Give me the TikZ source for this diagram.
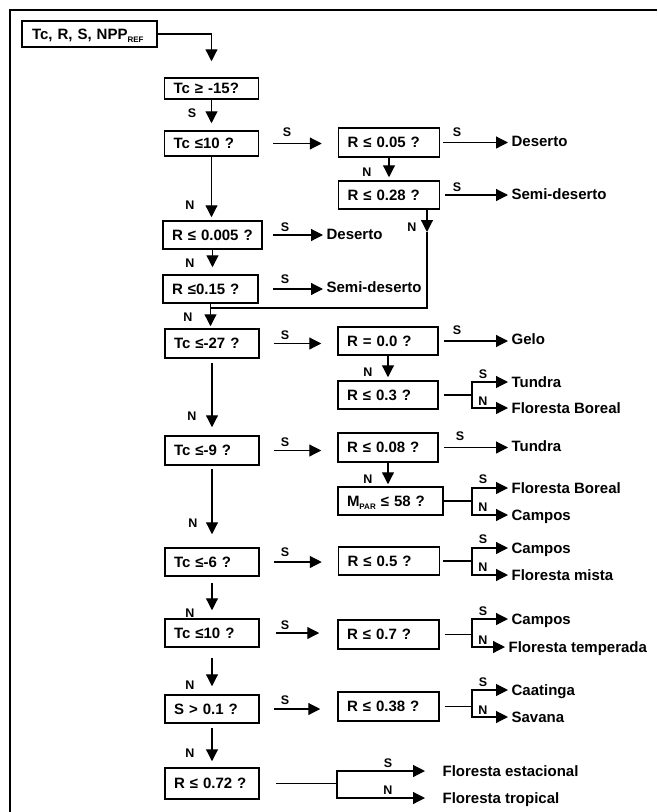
\documentclass[tikz,border=0pt]{standalone}
\usepackage{fontspec}
\setmainfont{Liberation Sans}
\usetikzlibrary{arrows.meta}

\newcommand{\lowidx}[1]{\raisebox{-0.35ex}{\fontsize{8}{8}\selectfont #1}}

\begin{document}
\begin{tikzpicture}[x=1pt, y=-1pt,
    >={Triangle[length=12pt, width=12pt]}, line width=1.2pt,
    qbox/.style={draw, rectangle, line width=1.5pt, minimum height=28pt, inner xsep=9pt, inner ysep=0pt,
      text width=76pt, align=left, text height=10.5pt, text depth=0pt, font=\fontsize{15}{16}\selectfont\bfseries},
    rbox/.style={qbox, text width=83pt},
    leaf/.style={anchor=west, inner sep=3pt, text height=10.5pt, text depth=0pt, font=\fontsize{15}{16}\selectfont\bfseries},
    lbl/.style={inner sep=0pt, font=\fontsize{12.5}{13}\selectfont\bfseries}]

    \useasboundingbox (0,0) rectangle (657,812);
    % === 外框 ===
    \draw[line width=2.2pt] (657,10) -- (10,10) -- (10,812);

    % === 左列: 判断框 ===
    \node[qbox, text width=115pt, inner xsep=10pt, minimum height=26pt] (inp) at (89.5,34) {Tc, R, S, NPP\lowidx{REF}};
    \node[qbox, minimum height=21pt] (Tc15) at (211.5,88.5) {Tc ≥ -15?};
    \node[qbox, minimum height=25pt] (Tc10) at (211.5,143.5) {Tc ≤10 ?};
    \node[qbox, text width=81pt] (R005) at (212.5,235) {R ≤ 0.005 ?};
    \node[qbox, text width=77pt] (R015) at (210.5,289) {R ≤0.15 ?};
    \node[qbox, minimum height=29pt] (Tc27) at (212,343.5) {Tc ≤-27 ?};
    \node[qbox, minimum height=29pt] (Tc9) at (212,450.5) {Tc ≤-9 ?};
    \node[qbox] (Tc6) at (212,562) {Tc ≤-6 ?};
    \node[qbox] (Tc10b) at (212,633) {Tc ≤10 ?};
    \node[qbox] (S01) at (212,709) {S > 0.1 ?};
    \node[qbox, minimum height=31pt] (R072) at (212,783.5) {R ≤ 0.72 ?};

    % === 右列: 判断框 ===
    \node[rbox, minimum height=29pt] (R05a) at (389,142.5) {R ≤ 0.05 ?};
    \node[rbox] (R028) at (389,195) {R ≤ 0.28 ?};
    \node[rbox, text width=82pt] (R00) at (388,341) {R = 0.0 ?};
    \node[rbox, text width=82pt] (R03) at (388,395) {R ≤ 0.3 ?};
    \node[rbox, text width=82pt, minimum height=29pt] (R008) at (388,447.5) {R ≤ 0.08 ?};
    \node[rbox, text width=87pt] (Mpar) at (390.5,501) {M\lowidx{PAR} ≤ 58 ?};
    \node[rbox] (R05) at (389,561) {R ≤ 0.5 ?};
    \node[rbox, minimum height=29pt] (R07) at (388.5,634.5) {R ≤ 0.7 ?};
    \node[rbox, minimum height=29pt] (R038) at (388.5,706.5) {R ≤ 0.38 ?};

    % === 结果 ===
    \node[leaf] (des1) at (508,141) {Deserto};
    \node[leaf] (sem1) at (508,194) {Semi-deserto};
    \node[leaf] (des2) at (323,234) {Deserto};
    \node[leaf] (sem2) at (323,287) {Semi-deserto};
    \node[leaf] (gelo) at (508,339) {Gelo};
    \node[leaf] (tun1) at (508,382) {Tundra};
    \node[leaf] (fb1)  at (508,408) {Floresta Boreal};
    \node[leaf] (tun2) at (508,446) {Tundra};
    \node[leaf] (fb2)  at (508,488) {Floresta Boreal};
    \node[leaf] (cam1) at (508,515) {Campos};
    \node[leaf] (cam2) at (508,548) {Campos};
    \node[leaf] (mis)  at (508,575) {Floresta mista};
    \node[leaf] (cam3) at (508,619) {Campos};
    \node[leaf] (temp) at (505,647) {Floresta temperada};
    \node[leaf] (caa)  at (508,690) {Caatinga};
    \node[leaf] (sav)  at (508,717) {Savana};
    \node[leaf] (est)  at (439,771) {Floresta estacional};
    \node[leaf] (trop) at (439,798) {Floresta tropical};

    % === 分叉点 ===
    \coordinate (k1) at (427,232);
    \coordinate (k2) at (427,308);
    \coordinate (j3) at (472,395);
    \coordinate (j6) at (472,501);
    \coordinate (j7) at (472,561);
    \coordinate (j8) at (472,634.5);
    \coordinate (j9) at (472,706.5);
    \coordinate (j10) at (337,783.5);

    % === 连线: 左列向下 ===
    % inp → Tc15
    \draw[->, shorten >=16pt] (inp.east) -| (Tc15.north);
    \draw[->, shorten >=7pt] (Tc15.south) -- (Tc15.south |- Tc10.north);
    \draw[->, shorten >=3pt] (Tc10.south) -- (Tc10.south |- R005.north);
    \draw[->, shorten >=7pt] (R005.south) -- (R005.south |- R015.north);
    \draw[->, shorten >=2pt] (R015.south) -- (R015.south |- Tc27.north);
    \draw[->, shorten <=4pt, shorten >=8pt] (Tc27.south) -- (Tc27.south |- Tc9.north);
    \draw[->, shorten <=3pt, shorten >=13pt] (Tc9.south) -- (Tc9.south |- Tc6.north);
    \draw[->, shorten <=6pt, shorten >=8pt] (Tc6.south) -- (Tc6.south |- Tc10b.north);
    \draw[->, shorten <=10pt, shorten >=8pt] (Tc10b.south) -- (Tc10b.south |- S01.north);
    \draw[->, shorten <=4pt, shorten >=6pt] (S01.south) -- (S01.south |- R072.north);

    % R028 → 回到 Tc27
    \draw[->] (R028.south -| k1) -- (k1);
    \draw (k1) -- (k2) -- (k2 -| R015.south);

    % === 连线: 左列 → 右列 ===
    \draw[->, shorten <=14pt, shorten >=16pt] (Tc10.east) -- (Tc10.east -| R05a.west);
    \draw[->, shorten <=14pt, shorten >=16pt] (Tc27.east) -- (Tc27.east -| R00.west);
    \draw[->, shorten <=14pt, shorten >=16pt] (Tc9.east) -- (Tc9.east -| R008.west);
    \draw[->, shorten <=14pt, shorten >=16pt] (Tc6.east) -- (Tc6.east -| R05.west);
    \draw[->, shorten <=16pt, shorten >=18pt] (Tc10b.east) -- (Tc10b.east -| R07.west);
    \draw[->, shorten <=14pt, shorten >=17pt] (S01.east) -- (S01.east -| R038.west);
    \draw[->, shorten <=10pt] (R005.east) -- (R005.east -| des2.west);
    \draw[->, shorten <=14pt] (R015.east) -- (R015.east -| sem2.west);

    % === 连线: 右列 ===
    \draw[->, shorten >=3pt] (R05a.south) -- (R05a.south |- R028.north);
    \draw[->, shorten >=3pt] (R00.south) -- (R00.south |- R03.north);
    \draw[->, shorten >=2pt] (R008.south) -- (R008.south |- Mpar.north);
    \draw[->, shorten <=3pt] (R05a.east) -- (R05a.east -| des1.west);
    \draw[->, shorten <=5pt] (R028.east) -- (R028.east -| sem1.west);
    \draw[->, shorten <=5pt] (R00.east) -- (R00.east -| gelo.west);
    \draw[->, shorten <=5pt] (R008.east) -- (R008.east -| tun2.west);

    % 分叉: S / N
    \draw[shorten <=5pt] (R03.east) -- (j3);
    \draw[->] (j3) |- (tun1.west);
    \draw[->] (j3) |- (fb1.west);
    \draw (Mpar.east) -- (j6);
    \draw[->] (j6) |- (fb2.west);
    \draw[->] (j6) |- (cam1.west);
    \draw[shorten <=3pt] (R05.east) -- (j7);
    \draw[->] (j7) |- (cam2.west);
    \draw[->] (j7) |- (mis.west);
    \draw[shorten <=5pt] (R07.east) -- (j8);
    \draw[->] (j8) |- (cam3.west);
    \draw[->] (j8) |- (temp.west);
    \draw[shorten <=5pt] (R038.east) -- (j9);
    \draw[->] (j9) |- (caa.west);
    \draw[->] (j9) |- (sav.west);
    \draw[shorten <=16pt] (R072.east) -- (j10);
    \draw[->, shorten >=14pt] (j10) |- (est.west);
    \draw[->, shorten >=14pt] (j10) |- (trop.west);

    % === 标签 S / N ===
    \node[lbl] (l1)  at (192,113) {S};
    \node[lbl] (l2)  at (287,132) {S};
    \node[lbl] (l3)  at (190,205) {N};
    \node[lbl] (l4)  at (457,132) {S};
    \node[lbl] (l5)  at (367,172) {N};
    \node[lbl] (l6)  at (457,187) {S};
    \node[lbl] (l7)  at (412,227) {N};
    \node[lbl] (l8)  at (285,227) {S};
    \node[lbl] (l9)  at (190,263) {N};
    \node[lbl] (l10) at (285,279) {S};
    \node[lbl] (l11) at (188,317) {N};
    \node[lbl] (l12) at (285,335) {S};
    \node[lbl] (l13) at (457,330) {S};
    \node[lbl] (l14) at (368,372) {N};
    \node[lbl] (l15) at (483,374) {S};
    \node[lbl] (l16) at (483,401) {N};
    \node[lbl] (l17) at (192,416) {N};
    \node[lbl] (l18) at (285,442) {S};
    \node[lbl] (l19) at (460,436) {S};
    \node[lbl] (l20) at (368,479) {N};
    \node[lbl] (l21) at (483,479) {S};
    \node[lbl] (l22) at (483,507) {N};
    \node[lbl] (l23) at (193,523) {N};
    \node[lbl] (l24) at (285,552) {S};
    \node[lbl] (l25) at (483,539) {S};
    \node[lbl] (l26) at (483,567) {N};
    \node[lbl] (l27) at (190,613) {N};
    \node[lbl] (l28) at (285,625) {S};
    \node[lbl] (l29) at (483,611) {S};
    \node[lbl] (l30) at (483,640) {N};
    \node[lbl] (l31) at (190,685) {N};
    \node[lbl] (l32) at (285,700) {S};
    \node[lbl] (l33) at (483,682) {S};
    \node[lbl] (l34) at (483,710) {N};
    \node[lbl] (l35) at (190,753) {N};
    \node[lbl] (l36) at (388,763) {S};
    \node[lbl] (l37) at (388,790) {N};

  \end{tikzpicture}
\end{document}
